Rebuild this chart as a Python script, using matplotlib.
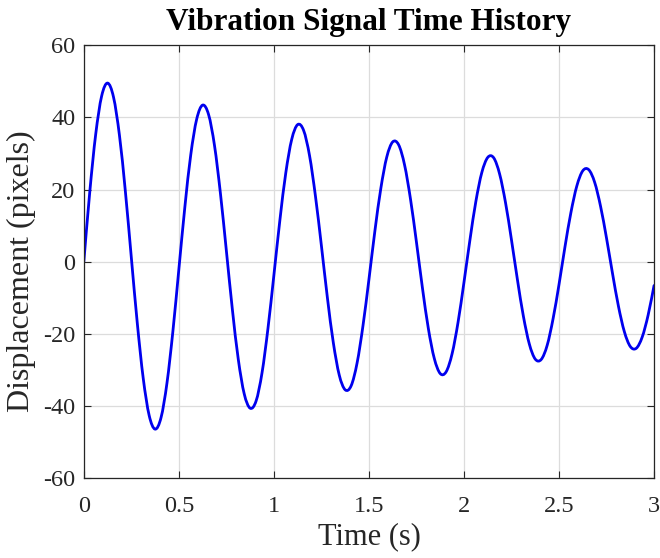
import matplotlib
matplotlib.use("Agg")
import matplotlib.pyplot as plt
from matplotlib.path import Path
from matplotlib.patches import PathPatch

# time samples (s), step 1/32 s, and displacement (pixels)
time_s = [k / 32 for k in range(97)]
displacement = [
    0.0, 19.3, 35.3, 45.9, 49.5, 45.6, 35.0, 19.4,
    1.1, -17.0, -32.3, -42.6, -46.4, -43.2, -33.6, -19.2,
    -2.1, 15.0, 29.6, 39.5, 43.4, 40.8, 32.2, 18.9,
    3.0, -13.1, -27.0, -36.6, -40.6, -38.6, -30.8, -18.5,
    -3.7, 11.4, 24.6, 33.9, 38.0, 36.4, 29.4, 18.1,
    4.4, -9.9, -22.4, -31.4, -35.5, -34.4, -28.1, -17.7,
    -4.9, 8.5, 20.3, 29.0, 33.2, 32.4, 26.8, 17.3,
    5.4, -7.2, -18.5, -26.8, -31.0, -30.5, -25.5, -16.8,
    -5.7, 6.0, 16.7, 24.7, 28.9, 28.8, 24.3, 16.3,
    6.0, -5.0, -15.1, -22.8, -27.0, -27.1, -23.2, -15.8,
    -6.3, 4.1, 13.6, 21.0, 25.2, 25.5, 22.0, 15.3,
    6.5, -3.2, -12.3, -19.4, -23.5, -24.0, -20.9, -14.8,
    -6.6,
]
x_ticks = [0, 0.5, 1, 1.5, 2, 2.5, 3]
x_tick_labels = ["0", "0.5", "1", "1.5", "2", "2.5", "3"]
y_ticks = [-60, -40, -20, 0, 20, 40, 60]


def smooth_path(xs, ys):
    # Catmull-Rom segments written as cubic Bezier curves, so the line
    # passes through every sample without a kink
    pts = list(zip(xs, ys))
    verts = [pts[0]]
    codes = [Path.MOVETO]
    n = len(pts)
    for i in range(n - 1):
        p0 = pts[max(i - 1, 0)]
        p1 = pts[i]
        p2 = pts[i + 1]
        p3 = pts[min(i + 2, n - 1)]
        c1 = (p1[0] + (p2[0] - p0[0]) / 6, p1[1] + (p2[1] - p0[1]) / 6)
        c2 = (p2[0] - (p3[0] - p1[0]) / 6, p2[1] - (p3[1] - p1[1]) / 6)
        verts += [c1, c2, p2]
        codes += [Path.CURVE4] * 3
    return Path(verts, codes)


plt.rcParams["font.family"] = ["Liberation Serif", "DejaVu Serif"]
plt.rcParams["axes.unicode_minus"] = False

fig = plt.figure(figsize=(6.6, 5.58), dpi=100)
ax = fig.add_axes([0.127, 0.143, 0.864, 0.776])

ax.add_patch(PathPatch(smooth_path(time_s, displacement), facecolor="none",
                       edgecolor="#0000ee", linewidth=2.0, capstyle="round",
                       joinstyle="round"))

ax.set_xlim(0, 3)
ax.set_ylim(-60, 60)
ax.set_xticks(x_ticks)
ax.set_xticklabels(x_tick_labels)
ax.set_yticks(y_ticks)
ax.grid(True, color="#dcdcdc", linewidth=0.9)
ax.set_axisbelow(True)

ax.tick_params(direction="in", top=True, right=True, length=5, width=0.8,
               labelsize=17.5, colors="#262626")
ax.tick_params(axis="x", pad=12.5)
ax.tick_params(axis="y", pad=6)
for side in ax.spines.values():
    side.set_color("#262626")
    side.set_linewidth(0.9)

ax.set_xlabel("Time (s)", fontsize=22, color="#262626", labelpad=4)
ax.set_ylabel("Displacement (pixels)", fontsize=23, color="#262626")
ax.yaxis.set_label_coords(-0.084, 0.477)
ax.set_title("Vibration Signal Time History", fontsize=22.5, fontweight="bold", pad=10.8)

fig.savefig("out.png", dpi=100)
